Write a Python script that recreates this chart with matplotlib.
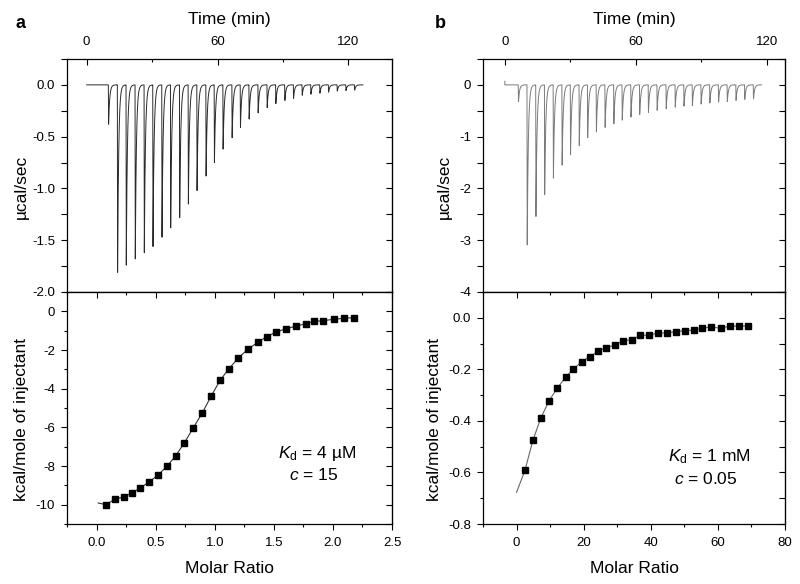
import numpy as np
import matplotlib
matplotlib.use('Agg')
import matplotlib.pyplot as plt
import matplotlib.ticker as ticker

plt.rcParams['font.family'] = ['Liberation Sans', 'DejaVu Sans']
plt.rcParams['axes.unicode_minus'] = False
plt.rcParams['mathtext.fontset'] = 'custom'
plt.rcParams['mathtext.rm'] = 'Liberation Sans'
plt.rcParams['mathtext.it'] = 'Liberation Sans:italic'

# --- panel a: raw ITC trace (injection time in min, peak in ucal/sec)
a_inj_time = [9.95, 14.08, 18.06, 22.19, 26.33, 30.31, 34.44, 38.42, 42.55, 46.53,
              50.51, 54.65, 58.47, 62.45, 66.59, 70.41, 74.39, 78.52, 82.66, 86.64,
              90.77, 94.75, 98.73, 102.71, 106.84, 110.82, 114.8, 118.78, 122.76]
a_inj_peak = [-0.38, -1.81, -1.74, -1.68, -1.62, -1.56, -1.47, -1.38, -1.28, -1.15,
              -1.02, -0.88, -0.75, -0.62, -0.51, -0.41, -0.33, -0.27, -0.22, -0.18,
              -0.15, -0.13, -0.10, -0.09, -0.08, -0.07, -0.06, -0.055, -0.05]
a_run_end = 126.7

# --- panel a: integrated heats (molar ratio, kcal/mol)
a_ratio = [0.08, 0.157, 0.23, 0.30, 0.37, 0.447, 0.52, 0.60, 0.67, 0.744,
           0.82, 0.896, 0.97, 1.045, 1.12, 1.20, 1.28, 1.365, 1.44, 1.52,
           1.60, 1.685, 1.77, 1.84, 1.92, 2.01, 2.09, 2.18]
a_heat = [-10.0, -9.71, -9.6, -9.38, -9.14, -8.81, -8.47, -7.99, -7.47, -6.79,
          -6.01, -5.24, -4.38, -3.57, -2.97, -2.41, -1.96, -1.60, -1.31, -1.07,
          -0.91, -0.77, -0.64, -0.52, -0.48, -0.41, -0.36, -0.33]
a_fit_x = [0.014] + a_ratio
a_fit_y = [-9.91] + a_heat

# --- panel b: raw ITC trace
b_inj_time = [6.15, 10.15, 14.15, 18.15, 22.15, 26.15, 30.0, 34.0, 37.85, 41.85,
              45.85, 49.85, 53.7, 57.7, 61.7, 65.7, 69.7, 73.85, 78.0, 82.0,
              85.85, 89.85, 93.85, 97.85, 101.85, 105.85, 109.85, 113.85]
b_inj_peak = [-0.32, -3.09, -2.54, -2.12, -1.80, -1.55, -1.35, -1.17, -1.02, -0.91,
              -0.82, -0.75, -0.68, -0.62, -0.57, -0.53, -0.49, -0.46, -0.43, -0.41,
              -0.40, -0.37, -0.35, -0.33, -0.32, -0.30, -0.28, -0.27]
b_run_end = 117.7
b_start_blip = 0.07

# --- panel b: integrated heats
b_ratio = [2.5, 4.85, 7.2, 9.7, 12.1, 14.6, 16.9, 19.4, 21.8, 24.3,
           26.7, 29.2, 31.8, 34.4, 36.8, 39.4, 42.1, 44.7, 47.4, 50.1,
           52.8, 55.3, 58.0, 60.8, 63.6, 66.3, 69.1]
b_heat = [-0.592, -0.476, -0.39, -0.321, -0.274, -0.230, -0.200, -0.170, -0.151, -0.130,
          -0.116, -0.106, -0.089, -0.085, -0.068, -0.068, -0.059, -0.059, -0.054, -0.050,
          -0.048, -0.041, -0.035, -0.041, -0.032, -0.032, -0.031]
b_fit_x = [0.0] + b_ratio
b_fit_y = [-0.677] + b_heat


def trace(times, peaks, t_end):
  # sharp drop then exponential return to baseline for each injection
  t = np.arange(0, t_end, 0.01)
  y = np.zeros_like(t)
  for t0, p in zip(times, peaks):
    dt = t - t0
    k = np.where(dt < 0, 0.0,
                 np.where(dt < 0.12, dt / 0.12, np.exp(-(dt - 0.12) / 0.5)))
    y += p * k
  return t, y


def ticks_style(ax):
  ax.tick_params(which='both', labelsize=9.5, width=0.8)
  ax.tick_params(which='major', length=4.5)
  ax.tick_params(which='minor', length=2.5)
  for s in ax.spines.values():
    s.set_linewidth(0.9)


def right_ticks(ax, major, minor):
  sec = ax.secondary_yaxis('right')
  sec.yaxis.set_major_locator(ticker.MultipleLocator(major))
  sec.yaxis.set_minor_locator(ticker.MultipleLocator(minor))
  sec.tick_params(which='both', direction='in', labelright=False, width=0.8)
  sec.tick_params(which='major', length=4.5)
  sec.tick_params(which='minor', length=4.5)
  ax.tick_params(axis='y', which='both', right=False)


def top_ticks(ax, major, minor):
  sec = ax.secondary_xaxis('top')
  sec.xaxis.set_major_locator(ticker.MultipleLocator(major))
  sec.xaxis.set_minor_locator(ticker.MultipleLocator(minor))
  sec.tick_params(which='both', direction='in', labeltop=False, width=0.8)
  sec.tick_params(which='major', length=4.5)
  sec.tick_params(which='minor', length=2.5)
  ax.tick_params(axis='x', which='both', top=False)


def raw_panel(ax, t, y, color, ylim, ymaj, ymin, yfmt, xlim):
  ax.plot(t, y, color=color, lw=0.7)
  ax.set_xlim(*xlim)
  ax.set_ylim(*ylim)
  ax.xaxis.tick_top()
  ax.xaxis.set_label_position('top')
  ax.set_xticks([0, 60, 120])
  ax.set_xticks([30, 90], minor=True)
  ax.yaxis.set_major_locator(ticker.MultipleLocator(ymaj))
  ax.yaxis.set_minor_locator(ticker.MultipleLocator(ymin))
  ax.yaxis.set_major_formatter(ticker.FormatStrFormatter(yfmt))
  ticks_style(ax)
  ax.tick_params(axis='x', which='both', direction='in', top=True, bottom=False, pad=8)
  ax.tick_params(axis='y', which='both', direction='out', pad=4)
  ax.tick_params(axis='y', which='minor', length=4.5)
  right_ticks(ax, ymaj, ymin)
  ax.set_xlabel('Time (min)', fontsize=12.5, va='baseline')
  ax.xaxis.set_label_coords(0.5, 1.15)
  ax.set_ylabel('µcal/sec', fontsize=12.5, va='center')


def heat_panel(ax, x, y, fx, fy, fitcolor, xlim, xmaj, xmin, xfmt, ylim, ymaj, ymin, yfmt):
  ax.plot(fx, fy, color=fitcolor, lw=0.8, zorder=2)
  ax.plot(x, y, 's', color='black', ms=5, zorder=3)
  ax.set_xlim(*xlim)
  ax.set_ylim(*ylim)
  ax.xaxis.set_major_locator(ticker.MultipleLocator(xmaj))
  ax.xaxis.set_minor_locator(ticker.MultipleLocator(xmin))
  ax.xaxis.set_major_formatter(ticker.FormatStrFormatter(xfmt))
  ax.yaxis.set_major_locator(ticker.MultipleLocator(ymaj))
  ax.yaxis.set_minor_locator(ticker.MultipleLocator(ymin))
  ax.yaxis.set_major_formatter(ticker.FormatStrFormatter(yfmt))
  ticks_style(ax)
  ax.tick_params(axis='x', which='both', direction='out', pad=5)
  ax.tick_params(axis='y', which='both', direction='out', pad=4)
  right_ticks(ax, ymaj, ymin)
  top_ticks(ax, xmaj, xmin)
  ax.set_xlabel('Molar Ratio', fontsize=12.5, va='baseline')
  ax.xaxis.set_label_coords(0.5, -0.211)
  ax.set_ylabel('kcal/mole of injectant', fontsize=12.5, va='center')


fig = plt.figure(figsize=(8, 5.84), dpi=100)
ax_a1 = fig.add_axes([0.08375, 0.5, 0.40625, 0.399])
ax_a2 = fig.add_axes([0.08375, 0.1027, 0.40625, 0.3973])
ax_b1 = fig.add_axes([0.60375, 0.5, 0.3775, 0.399])
ax_b2 = fig.add_axes([0.60375, 0.1027, 0.3775, 0.3973])

ta, ya = trace(a_inj_time, a_inj_peak, a_run_end)
raw_panel(ax_a1, ta, ya, '#2a2a2a', (-2.0, 0.25), 0.5, 0.25, '%.1f', (-9.0, 140.0))
ax_a1.yaxis.set_label_coords(-0.1415, 0.45)

tb, yb = trace(b_inj_time, b_inj_peak, b_run_end)
tb = np.concatenate([[0.0, 0.0], tb])
yb = np.concatenate([[b_start_blip, 0.0], yb])
raw_panel(ax_b1, tb, yb, '#7a7a7a', (-4.0, 0.5), 1, 0.5, '%.0f', (-10.0, 128.4))
ax_b1.yaxis.set_label_coords(-0.129, 0.45)

heat_panel(ax_a2, a_ratio, a_heat, a_fit_x, a_fit_y, '#333333',
           (-0.25, 2.5), 0.5, 0.25, '%.1f', (-11, 1), 2, 1, '%.0f')
ax_a2.yaxis.set_label_coords(-0.1415, 0.45)
ax_a2.text(1.863, -7.58, r'$K_\mathrm{d}$ = 4 µM', fontsize=12.5, ha='center', va='baseline')
ax_a2.text(1.84, -8.71, r'$c$ = 15', fontsize=12.5, ha='center', va='baseline')

heat_panel(ax_b2, b_ratio, b_heat, b_fit_x, b_fit_y, '#666666',
           (-10, 80), 20, 10, '%.0f', (-0.8, 0.1), 0.2, 0.1, '%.1f')
ax_b2.yaxis.set_label_coords(-0.162, 0.45)
ax_b2.text(57.4, -0.558, r'$K_\mathrm{d}$ = 1 mM', fontsize=12.5, ha='center', va='baseline')
ax_b2.text(56.3, -0.645, r'$c$ = 0.05', fontsize=12.5, ha='center', va='baseline')

fig.text(0.02625, 0.952, 'a', fontsize=13, fontweight='bold', ha='center', va='baseline')
fig.text(0.55, 0.952, 'b', fontsize=13, fontweight='bold', ha='center', va='baseline')

fig.savefig('out.png', dpi=100)
